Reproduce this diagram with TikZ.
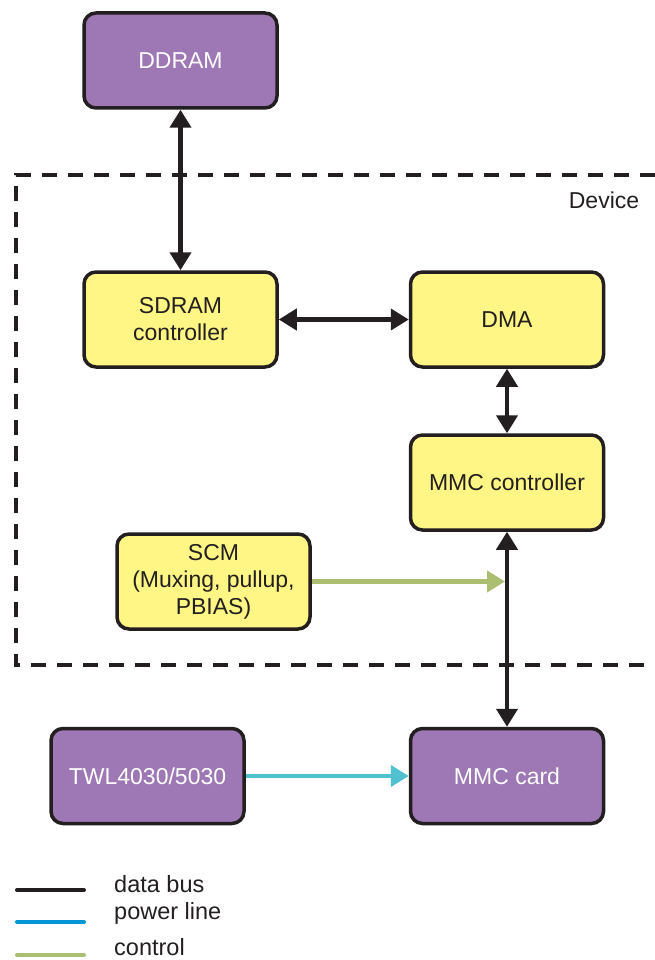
\documentclass[tikz,border=0pt]{standalone}
\usepackage{fontspec}
\setmainfont{Liberation Sans}
\usetikzlibrary{arrows.meta}
\definecolor{purp}{HTML}{9E78B4}
\definecolor{yel}{HTML}{FFF685}
\definecolor{dark}{HTML}{231F20}
\definecolor{ctrlgreen}{HTML}{ABBE72}
\definecolor{pwrcyan}{HTML}{4FC1CF}
\definecolor{pwrblue}{HTML}{0096D6}
\begin{document}
\begin{tikzpicture}[x=1pt,y=-1pt,
  blk/.style={draw=dark,line width=3.5pt,rounded corners=12pt,minimum width=193pt,minimum height=95pt,align=center,font=\fontsize{23}{27}\selectfont,inner sep=0pt},
  pblk/.style={blk,fill=purp,text=white},
  yblk/.style={blk,fill=yel,text=dark},
  bus/.style={draw=dark,line width=4.2pt,{Triangle[length=18pt,width=21pt]}-{Triangle[length=18pt,width=21pt]}},
  lbl/.style={font=\fontsize{23.5}{27}\selectfont,text=dark,anchor=west,inner sep=0pt}
]
\useasboundingbox (0,0) rectangle (655,960);
% dashed device box
\draw[dark,line width=3.5pt,dash pattern=on 15pt off 11pt] (655,175) -- (16,175) -- (16,665) -- (655,665);
\node[font=\fontsize{23}{27}\selectfont,text=dark,inner sep=0pt] (dev) at (604,200) {Device};
% blocks
\node[pblk] (ddram) at (180.5,60.5) {DDRAM};
\node[yblk] (sdram) at (180.5,319.5) {SDRAM\\controller};
\node[yblk] (dma) at (507,319.5) {DMA};
\node[yblk] (mmcc) at (507,482.5) {MMC controller};
\node[yblk] (scm) at (213.5,581.5) {SCM\\(Muxing, pullup,\\PBIAS)};
\node[pblk] (twl) at (147.5,776) {TWL4030/5030};
\node[pblk] (card) at (507,776) {MMC card};
% connectors
\draw[bus] (ddram.south) -- (sdram.north);
\draw[bus] (sdram.east) -- (dma.west);
\draw[bus] (dma.south) -- (mmcc.north);
\draw[bus] (mmcc.south) -- (card.north);
\coordinate (scmend) at (mmcc.south |- scm.east);
\draw[ctrlgreen,line width=4.2pt,-{Triangle[length=18pt,width=21pt,fill=ctrlgreen]}] (scm.east) -- ([xshift=-2pt]scmend);
\draw[pwrcyan,line width=4.2pt,-{Triangle[length=18pt,width=21pt,fill=pwrcyan]}] (twl.east) -- (card.west);
% legend
\coordinate (l1a) at (17,890); \coordinate (l1b) at (84,890);
\coordinate (l2a) at (17,922); \coordinate (l2b) at (84,922);
\coordinate (l3a) at (17,955); \coordinate (l3b) at (84,955);
\draw[dark,line width=4pt,line cap=round] (l1a) -- (l1b);
\draw[pwrblue,line width=4pt,line cap=round] (l2a) -- (l2b);
\draw[ctrlgreen,line width=4pt,line cap=round] (l3a) -- (l3b);
\node[lbl] (t1) at (114,884) {data bus};
\node[lbl] (t2) at (114,913) {power line};
\node[lbl] (t3) at (114,947) {control};
\end{tikzpicture}
\end{document}
